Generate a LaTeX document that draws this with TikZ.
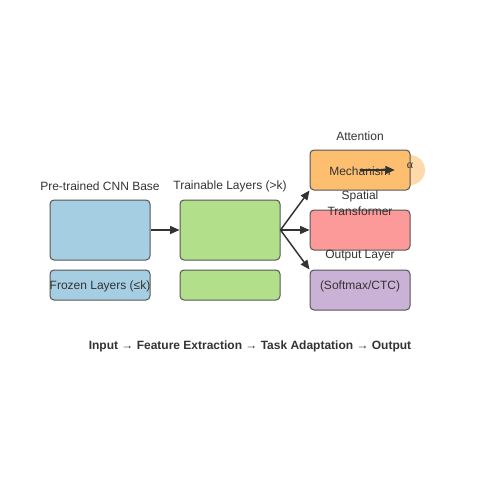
\documentclass[tikz,border=0pt]{standalone}
\usepackage{fontspec}
\setmainfont{Liberation Sans}
\newfontfamily\greekserif{Liberation Serif}
\usetikzlibrary{arrows.meta}
\definecolor{cblue}{HTML}{A6CEE3}
\definecolor{cgreen}{HTML}{B2DF8A}
\definecolor{corange}{HTML}{FDBF6F}
\definecolor{cred}{HTML}{FB9A99}
\definecolor{cpurple}{HTML}{CAB2D6}
\definecolor{cline}{HTML}{333333}
\definecolor{cedge}{HTML}{555555}
\tikzset{
  box/.style={draw=cedge, line width=0.75pt, rounded corners=3pt, inner sep=0pt, minimum width=75pt},
  lbl/.style={inner sep=0pt, text=cline, font=\fontsize{9pt}{10pt}\selectfont},
  conn/.style={draw=cline, line width=1.1pt, -{Stealth[length=7pt,width=6pt,inset=0pt]}},
}
\begin{document}
\begin{tikzpicture}[x=0.75pt,y=-0.75pt]
\useasboundingbox (0,0) rectangle (500,500);
% alpha circle (behind)
\node[circle, fill=corange, fill opacity=0.6, minimum size=22.5pt, inner sep=0pt] (alpha) at (410,170) {};
% boxes
\node[box, fill=cblue, minimum height=45pt] (cnn) at (100,230) {};
\node[box, fill=cblue, minimum height=22.5pt] (frozen) at (100,285) {};
\node[box, fill=cgreen, minimum height=45pt] (train) at (230,230) {};
\node[box, fill=cgreen, minimum height=22.5pt] (train2) at (230,285) {};
\node[box, fill=corange, minimum height=30pt] (att) at (360,170) {};
\node[box, fill=cred, minimum height=30pt] (stn) at (360,230) {};
\node[box, fill=cpurple, minimum height=30pt] (out) at (360,290) {};
% labels
\node[lbl] (lcnn) at (100,186) {Pre-trained CNN Base};
\node[lbl] (lfrozen) at (100,286) {Frozen Layers (≤k)};
\node[lbl] (ltrain) at (230,186) {Trainable Layers (>k)};
\node[lbl] (latt1) at (360,136) {Attention};
\node[lbl] (latt2) at (360,171) {Mechanism};
\node[lbl] (lstn1) at (360,196) {Spatial};
\node[lbl] (lstn2) at (360,211) {Transformer};
\node[lbl] (lout1) at (360,256) {Output Layer};
\node[lbl] (lout2) at (360,286) {(Softmax/CTC)};
\node[lbl, font=\fontsize{9pt}{10pt}\selectfont\bfseries] (flow) at (250,346) {Input → Feature Extraction → Task Adaptation → Output};
\node[inner sep=0pt, text=cline, font=\greekserif\fontsize{9pt}{10pt}\selectfont] (lalpha) at (410,166) {α};
% connectors
\draw[conn] (cnn.east) -- (train.west);
\draw[conn] (train.east) -- (att.south west);
\draw[conn] (train.east) -- (stn.west);
\draw[conn] (train.east) -- (out.north west);
\draw[conn] (att.center) -- (alpha.west);
\end{tikzpicture}
\end{document}
